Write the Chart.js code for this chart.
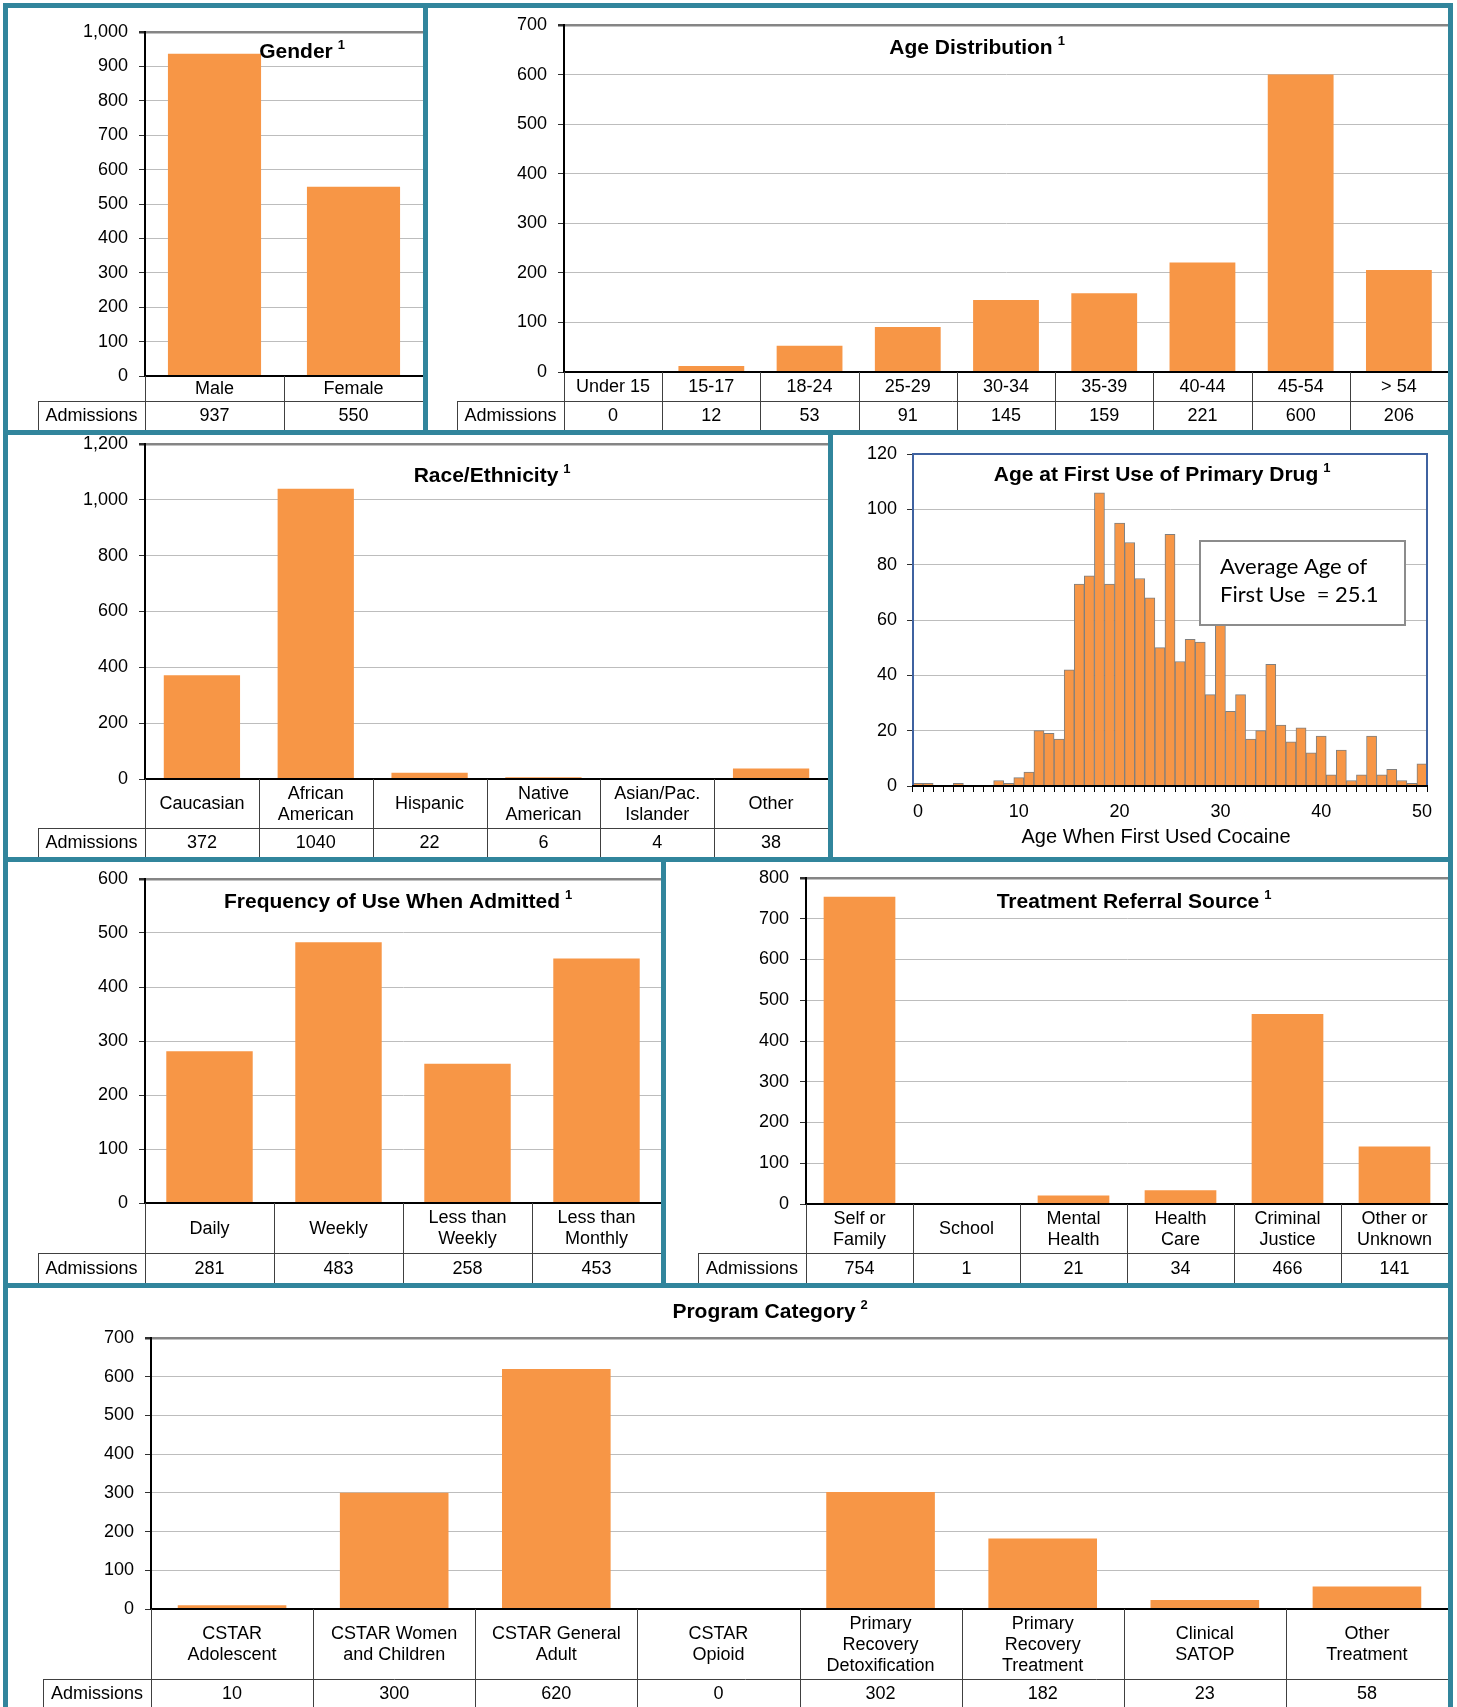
<!DOCTYPE html>
<html><head><meta charset="utf-8">
<script src="https://cdn.jsdelivr.net/npm/chart.js@4.4.1/dist/chart.umd.min.js"></script>
<style>
body{margin:0;background:#fff;width:1457px;height:1707px;position:relative;overflow:hidden}
.b{position:absolute;background:#31859C;z-index:10}
canvas{position:absolute}
</style>
</head><body>
<div class="b" style="left:3px;top:3px;width:1450px;height:5px"></div>
<div class="b" style="left:3px;top:430px;width:1450px;height:5px"></div>
<div class="b" style="left:3px;top:857px;width:1450px;height:5px"></div>
<div class="b" style="left:3px;top:1283px;width:1450px;height:5px"></div>
<div class="b" style="left:3px;top:3px;width:5px;height:1704px"></div>
<div class="b" style="left:1448px;top:3px;width:5px;height:1704px"></div>
<div class="b" style="left:423px;top:3px;width:5px;height:432px"></div>
<div class="b" style="left:828px;top:430px;width:5px;height:432px"></div>
<div class="b" style="left:661px;top:857px;width:5px;height:431px"></div>
<script>
// ---------------- DATA ----------------
const genderLabels = ['Male', 'Female'];
const genderValues = [937, 550];

const ageLabels = ['Under 15', '15-17', '18-24', '25-29', '30-34', '35-39', '40-44', '45-54', '> 54'];
const ageValues = [0, 12, 53, 91, 145, 159, 221, 600, 206];

const raceLabels = ['Caucasian', ['African', 'American'], 'Hispanic', ['Native', 'American'], ['Asian/Pac.', 'Islander'], 'Other'];
const raceValues = [372, 1040, 22, 6, 4, 38];

const firstUseAges = [0,1,2,3,4,5,6,7,8,9,10,11,12,13,14,15,16,17,18,19,20,21,22,23,24,25,26,27,28,29,30,31,32,33,34,35,36,37,38,39,40,41,42,43,44,45,46,47,48,49,50];
const firstUseCounts = [1,1,0,0,1,0,0,0,2,1,3,5,20,19,17,42,73,76,106,73,95,88,75,68,50,91,45,53,52,33,65,27,33,17,20,44,22,16,21,12,18,4,13,2,4,18,4,6,2,1,8];
const firstUseTickAges = [0, 10, 20, 30, 40, 50];

const freqLabels = ['Daily', 'Weekly', ['Less than', 'Weekly'], ['Less than', 'Monthly']];
const freqValues = [281, 483, 258, 453];

const referralLabels = [['Self or', 'Family'], 'School', ['Mental', 'Health'], ['Health', 'Care'], ['Criminal', 'Justice'], ['Other or', 'Unknown']];
const referralValues = [754, 1, 21, 34, 466, 141];

const programLabels = [['CSTAR', 'Adolescent'], ['CSTAR Women', 'and Children'], ['CSTAR General', 'Adult'], ['CSTAR', 'Opioid'], ['Primary', 'Recovery', 'Detoxification'], ['Primary', 'Recovery', 'Treatment'], ['Clinical', 'SATOP'], ['Other', 'Treatment']];
const programValues = [10, 300, 620, 0, 302, 182, 23, 58];

// ---------------- STYLE / LAYOUT ----------------
const FONT = "'Liberation Sans', Arial, sans-serif";
const ORANGE = '#F79646';
Chart.defaults.font.family = FONT;
Chart.defaults.color = '#000';

function addCanvas(box) {
  const c = document.createElement('canvas');
  c.width = box.w; c.height = box.h;
  c.style.left = box.x + 'px'; c.style.top = box.y + 'px';
  c.style.width = box.w + 'px'; c.style.height = box.h + 'px';
  document.body.appendChild(c);
  return c;
}

function drawTitle(ctx, box, t) {
  ctx.save();
  ctx.fillStyle = '#000';
  ctx.font = 'bold 21px ' + FONT;
  ctx.textBaseline = 'middle';
  ctx.textAlign = 'left';
  const w = ctx.measureText(t.text).width;
  const x0 = t.cx - box.x - w / 2, y0 = t.cy - box.y;
  ctx.fillText(t.text, x0, y0);
  ctx.font = 'bold 13px ' + FONT;
  ctx.fillText(t.sup, x0 + w + 5, y0 - 7);
  ctx.restore();
}

function drawTable(chart, box, g, labels, values) {
  const ctx = chart.ctx, ca = chart.chartArea, xs = chart.scales.x;
  const n = labels.length;
  const bot = g.bottom - box.y, split = g.split - box.y, lab = g.labelLeft - box.x;
  ctx.save();
  ctx.strokeStyle = '#404040'; ctx.lineWidth = 1;
  ctx.beginPath();
  for (let i = 0; i <= n; i++) {
    const x = Math.round(xs.getPixelForValue(i - 0.5)) + 0.5;
    if (x > box.w - 2) continue;
    ctx.moveTo(x, ca.bottom); ctx.lineTo(x, bot);
  }
  ctx.moveTo(lab, Math.round(split) + 0.5); ctx.lineTo(ca.right, Math.round(split) + 0.5);
  ctx.moveTo(lab + 0.5, split); ctx.lineTo(lab + 0.5, bot);
  ctx.stroke();
  ctx.fillStyle = '#000'; ctx.font = '18px ' + FONT;
  ctx.textAlign = 'center'; ctx.textBaseline = 'middle';
  const lh = 21;
  labels.forEach((l, i) => {
    const lines = Array.isArray(l) ? l : [l];
    const cx = xs.getPixelForValue(i);
    const cy = (ca.bottom + split) / 2 + 1;
    lines.forEach((s, k) => ctx.fillText(s, cx, cy + (k - (lines.length - 1) / 2) * lh));
    ctx.fillText(String(values[i]), cx, (split + bot) / 2 + 1);
  });
  ctx.fillText('Admissions', (lab + ca.left) / 2, (split + bot) / 2 + 1);
  ctx.restore();
}

function barPanel(box, plot, labels, values, yMax, yStep, title, table) {
  const canvas = addCanvas(box);
  const deco = {
    id: 'deco',
    afterDatasetsDraw(chart) {
      const ctx = chart.ctx, ca = chart.chartArea;
      ctx.save();
      ctx.strokeStyle = '#000'; ctx.lineWidth = 2;
      ctx.beginPath(); ctx.moveTo(ca.left - 1, ca.bottom); ctx.lineTo(ca.right, ca.bottom); ctx.stroke();
      ctx.restore();
      drawTitle(ctx, box, title);
      drawTable(chart, box, table, labels, values);
    }
  };
  return new Chart(canvas, {
    type: 'bar',
    data: { labels: labels, datasets: [{ data: values, backgroundColor: ORANGE, borderWidth: 0, barPercentage: 0.67, categoryPercentage: 1 }] },
    options: {
      responsive: false, animation: false,
      layout: { padding: { left: 0, top: plot.t - box.y, right: box.x + box.w - plot.r, bottom: box.y + box.h - plot.b } },
      plugins: { legend: { display: false }, tooltip: { enabled: false } },
      scales: {
        x: { display: false },
        y: {
          min: 0, max: yMax,
          ticks: { stepSize: yStep, font: { size: 18 }, color: '#000', padding: 11, callback: v => v.toLocaleString('en-US') },
          grid: {
            color: c => c.tick.value === 0 ? 'rgba(0,0,0,0)' : (c.tick.value === yMax ? '#858585' : '#BDBDBD'),
            lineWidth: c => c.tick.value === yMax ? 2.5 : 1,
            tickLength: 6, tickColor: '#303030'
          },
          border: { display: true, color: '#000', width: 2 },
          afterFit: s => { s.width = plot.l - box.x; s.paddingTop = 0; s.paddingBottom = 0; }
        }
      }
    },
    plugins: [deco]
  });
}

// Gender
barPanel({ x: 8, y: 8, w: 415, h: 422 }, { l: 145, t: 32, r: 423, b: 376 },
  genderLabels, genderValues, 1000, 100,
  { text: 'Gender', sup: '1', cx: 296, cy: 52 },
  { split: 401, bottom: 430, labelLeft: 38 });

// Age distribution
barPanel({ x: 428, y: 8, w: 1020, h: 422 }, { l: 564, t: 25, r: 1448, b: 372 },
  ageLabels, ageValues, 700, 100,
  { text: 'Age Distribution', sup: '1', cx: 971, cy: 48 },
  { split: 401, bottom: 430, labelLeft: 457 });

// Race / Ethnicity
barPanel({ x: 8, y: 435, w: 820, h: 422 }, { l: 145, t: 444, r: 828, b: 779 },
  raceLabels, raceValues, 1200, 200,
  { text: 'Race/Ethnicity', sup: '1', cx: 486, cy: 476 },
  { split: 828, bottom: 857, labelLeft: 38 });

// Frequency
barPanel({ x: 8, y: 862, w: 653, h: 421 }, { l: 145, t: 879, r: 661, b: 1203 },
  freqLabels, freqValues, 600, 100,
  { text: 'Frequency of Use When Admitted', sup: '1', cx: 392, cy: 902 },
  { split: 1253, bottom: 1283, labelLeft: 38 });

// Referral
barPanel({ x: 666, y: 862, w: 782, h: 421 }, { l: 806, t: 878, r: 1448, b: 1204 },
  referralLabels, referralValues, 800, 100,
  { text: 'Treatment Referral Source', sup: '1', cx: 1128, cy: 902 },
  { split: 1253, bottom: 1283, labelLeft: 698 });

// Program category
barPanel({ x: 8, y: 1288, w: 1440, h: 419 }, { l: 151, t: 1338, r: 1448, b: 1609 },
  programLabels, programValues, 700, 100,
  { text: 'Program Category', sup: '2', cx: 764, cy: 1312 },
  { split: 1679, bottom: 1707, labelLeft: 43 });

// Histogram: age at first use
(function () {
  const box = { x: 833, y: 435, w: 615, h: 422 };
  const plot = { l: 913, t: 454, r: 1427, b: 786 };
  const canvas = addCanvas(box);
  const deco = {
    id: 'histdeco',
    afterDatasetsDraw(chart) {
      const ctx = chart.ctx, ca = chart.chartArea;
      ctx.save();
      // plot frame (blue)
      ctx.strokeStyle = '#3F62A0'; ctx.lineWidth = 2;
      ctx.beginPath();
      ctx.moveTo(ca.left, ca.bottom); ctx.lineTo(ca.left, ca.top); ctx.lineTo(ca.right, ca.top); ctx.lineTo(ca.right, ca.bottom);
      ctx.stroke();
      ctx.strokeStyle = '#000'; ctx.lineWidth = 2;
      ctx.beginPath(); ctx.moveTo(ca.left - 1, ca.bottom); ctx.lineTo(ca.right + 1, ca.bottom); ctx.stroke();
      // annotation box
      const bx = 1200 - box.x, by = 541 - box.y, bw = 205, bh = 84;
      ctx.fillStyle = '#fff'; ctx.fillRect(bx, by, bw, bh);
      ctx.strokeStyle = '#8C8C8C'; ctx.lineWidth = 2; ctx.strokeRect(bx, by, bw, bh);
      ctx.fillStyle = '#000'; ctx.font = "22px Lato, 'Open Sans', sans-serif";
      ctx.textAlign = 'left'; ctx.textBaseline = 'middle';
      ctx.fillText('Average Age of', 1220 - box.x, 567 - box.y);
      ctx.fillText('First Use  = 25.1', 1220 - box.x, 595 - box.y);
      // axis title
      ctx.font = '20px ' + FONT; ctx.textAlign = 'center';
      ctx.fillText('Age When First Used Cocaine', 1156 - box.x, 837 - box.y);
      ctx.restore();
      drawTitle(ctx, box, { text: 'Age at First Use of Primary Drug', sup: '1', cx: 1156, cy: 475 });
    }
  };
  new Chart(canvas, {
    type: 'bar',
    data: { labels: firstUseAges, datasets: [{ data: firstUseCounts, backgroundColor: ORANGE, borderColor: '#7F7F7F', borderWidth: 1, borderSkipped: 'start', barPercentage: 1, categoryPercentage: 1 }] },
    options: {
      responsive: false, animation: false,
      layout: { padding: { left: 0, top: plot.t - box.y, right: box.x + box.w - plot.r, bottom: box.y + box.h - plot.b - 40 } },
      plugins: { legend: { display: false }, tooltip: { enabled: false } },
      scales: {
        x: {
          ticks: {
            autoSkip: false, maxRotation: 0, font: { size: 18 }, color: '#000', padding: 9,
            callback: function (v, i) { const a = firstUseAges[i]; return firstUseTickAges.includes(a) ? String(a) : ''; }
          },
          grid: { offset: true, drawOnChartArea: false, drawTicks: true, tickLength: 6, color: '#000' },
          border: { display: true, color: '#000', width: 2 },
          afterFit: s => { s.height = 40; s.paddingLeft = 0; s.paddingRight = 0; }
        },
        y: {
          min: 0, max: 120,
          ticks: { stepSize: 20, font: { size: 18 }, color: '#000', padding: 10 },
          grid: {
            color: c => (c.tick.value === 0 || c.tick.value === 120) ? 'rgba(0,0,0,0)' : '#BDBDBD',
            lineWidth: 1, tickLength: 6, tickColor: '#303030'
          },
          border: { display: true, color: '#2B4C84', width: 2 },
          afterFit: s => { s.width = plot.l - box.x; s.paddingTop = 0; s.paddingBottom = 0; }
        }
      }
    },
    plugins: [deco]
  });
})();
</script>
</body></html>
